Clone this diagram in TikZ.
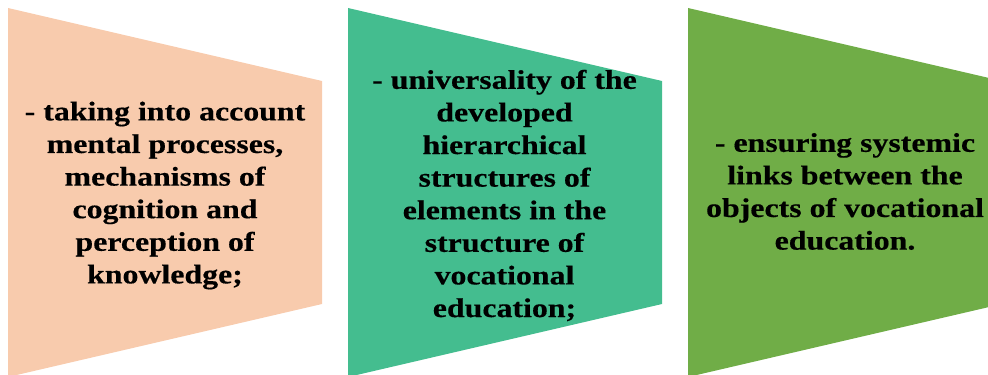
\documentclass[tikz,border=0pt]{standalone}
\usepackage{fontspec}
\setmainfont[FakeStretch=1.18, BoldFeatures={FakeBold=0.4}]{Liberation Serif}
\definecolor{cogn}{HTML}{F8CBAD}
\definecolor{hier}{HTML}{44BD8F}
\definecolor{sys}{HTML}{70AD47}

\begin{document}
\begin{tikzpicture}[x=0.5pt, y=-0.5pt,
    txt/.style={align=center, inner sep=0pt, text=black,
                font=\fontsize{13.5}{16.3}\selectfont\bfseries}]

  \useasboundingbox (0,0) rectangle (988,374);
  \clip (0,0) rectangle (988,374);

  % tapering panels, wide side on the left
  \fill[cogn] (8,8)   -- (322,81)  -- (322,304)  -- (8,377)   -- cycle;
  \fill[hier] (348,8) -- (662,81)  -- (662,304)  -- (348,377) -- cycle;
  \fill[sys]  (688,8) -- (1002,81) -- (1002,304) -- (688,377) -- cycle;

  % panel texts
  \node[txt] (mind) at (165,195.5)
    {- taking into account\\mental processes,\\mechanisms of\\cognition and\\perception of\\knowledge;};
  \node[txt] (hierarchy) at (504.5,195.5)
    {- universality of the\\developed\\hierarchical\\structures of\\elements in the\\structure of\\vocational\\education;};
  \node[txt] (links) at (845,191.5)
    {- ensuring systemic\\links between the\\objects of vocational\\education.};
\end{tikzpicture}
\end{document}
